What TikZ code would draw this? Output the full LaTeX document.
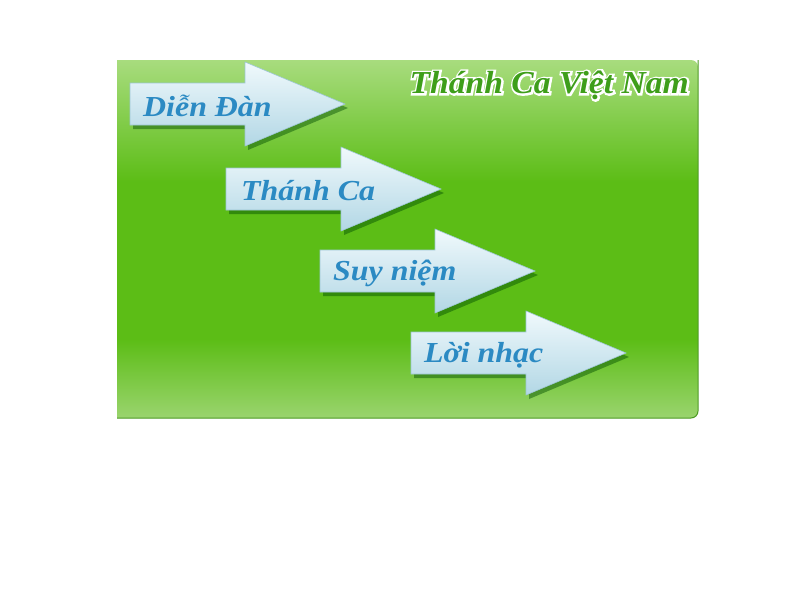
\documentclass[tikz,border=0pt]{standalone}
\usepackage{fontspec}
\setmainfont{Liberation Serif}
\newfontfamily\lblfont{Liberation Serif}[FakeStretch=1.1]
\newfontfamily\ttlfont{Liberation Serif}[FakeStretch=1.05]
\newfontfamily\ttlglowfont{Liberation Serif}[FakeStretch=1.05, FakeBold=12]
\usetikzlibrary{shadows}
\definecolor{ptop}{HTML}{A8DC7E}
\definecolor{pmid}{HTML}{5CBD16}
\definecolor{pbot}{HTML}{9AD46E}
\definecolor{pedge}{HTML}{4C9A22}
\definecolor{atop}{HTML}{F0F9FC}
\definecolor{abot}{HTML}{B2D7E5}
\definecolor{aedge}{HTML}{9CC6D4}
\definecolor{txtblue}{HTML}{2B8AC3}
\definecolor{ttlgreen}{HTML}{3E9E1A}
\pgfdeclareverticalshading{panelshade}{100bp}{color(0bp)=(pbot); color(25bp)=(pbot); color(36bp)=(pmid); color(58bp)=(pmid); color(75bp)=(ptop); color(100bp)=(ptop)}
\tikzset{
  arrowbox/.style={top color=atop, bottom color=abot, draw=aedge, line width=0.6pt,
    drop shadow={shadow xshift=3pt, shadow yshift=-4pt, opacity=0.45, fill=black!70!green}},
  lbl/.style={font=\lblfont\fontsize{29}{29}\selectfont\bfseries\itshape, text=txtblue, inner sep=0pt, anchor=west},
  ttl/.style={font=\ttlfont\fontsize{32}{32}\selectfont\bfseries\itshape, inner sep=0pt, anchor=east, text=ttlgreen},
  ttlglow/.style={ttl, font=\ttlglowfont\fontsize{32}{32}\selectfont\bfseries\itshape, text=white}
}
\newcommand\myarrow[2]{%
  \path[arrowbox] (#1,#2) -- ++(115,0) -- ++(0,-21) -- ++(100,42) -- ++(-100,42) -- ++(0,-21) -- ++(-115,0) -- cycle;}
\begin{document}
\begin{tikzpicture}[x=1pt,y=-1pt]
\useasboundingbox (0,0) rectangle (800,600);
% panel
\path[shading=panelshade] (117,60) [rounded corners=7pt] -- (698,60) -- (698,418) [sharp corners] -- (117,418) -- cycle;
\draw[pedge, line width=1pt, rounded corners=7pt] (698,60) -- (698,418) -- (117,418);
% title
\node[ttlglow] (titleglow) at (689.5,85.5) {Thánh Ca Việt Nam};
\node[ttl] (title) at (689,85) {Thánh Ca Việt Nam};
% arrows
\myarrow{130}{83}
\myarrow{226}{168}
\myarrow{320}{250}
\myarrow{411}{332}
% labels
\node[lbl] (l1) at (143,106) {Diễn Đàn};
\node[lbl] (l2) at (241,191) {Thánh Ca};
\node[lbl] (l3) at (333,273) {Suy niệm};
\node[lbl] (l4) at (424,355) {Lời nhạc};
\end{tikzpicture}
\end{document}
